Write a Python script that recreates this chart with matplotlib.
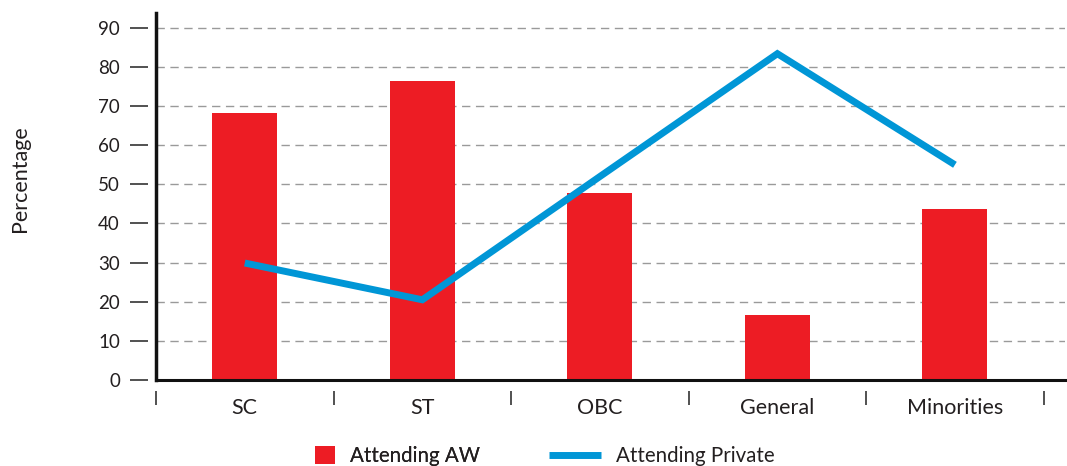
import matplotlib
matplotlib.use("Agg")
import matplotlib.pyplot as plt
from matplotlib.patches import Patch
from matplotlib.lines import Line2D
import numpy as np

categories = ["SC", "ST", "OBC", "General", "Minorities"]
attending_aw = [68.2, 76.5, 47.8, 16.6, 43.7]
attending_private = [29.9, 20.5, 52.0, 83.4, 55.0]
yticks = [0, 10, 20, 30, 40, 50, 60, 70, 80, 90]

RED = "#ED1C24"
BLUE = "#0096D6"
TXT = "#231F20"

plt.rcParams['font.family'] = ['Lato', 'DejaVu Sans']

fig = plt.figure(figsize=(10.67, 4.66), dpi=100)
ax = fig.add_axes([156/1067, 86/466, (1065-156)/1067, 367/466])

x = np.arange(len(categories))
ax.bar(x, attending_aw, width=0.366, color=RED, zorder=3)
ax.plot(x, attending_private, color=BLUE, lw=5, zorder=4, solid_capstyle='butt', solid_joinstyle='miter')

ax.set_xlim(-0.5, 4.62)
ax.set_ylim(0, 93.8)
ax.set_yticks(yticks)
ax.set_yticklabels([str(v) for v in yticks])
ax.yaxis.grid(True, color="#9a9a9a", linestyle=(0, (6, 4)), lw=1.0, zorder=1)
ax.set_axisbelow(True)

for s in ["top", "right"]:
    ax.spines[s].set_visible(False)
ax.spines['left'].set_position(('outward', 6))
ax.spines['left'].set_visible(False)
ax.spines['bottom'].set_position(('outward', 8))
ax.spines['bottom'].set_visible(False)
# real axis lines
ax.axvline(-0.5, color="#111111", lw=2.5, zorder=5, clip_on=False)
ax.axhline(0, color="#111111", lw=2.2, zorder=5, clip_on=False)

ax.tick_params(axis='y', length=13, width=1.2, color="#333333", labelsize=13.5, labelcolor=TXT, pad=7)
ax.set_xticks(x)
ax.set_xticklabels(categories)
ax.set_xticks(np.arange(-0.5, 5, 1.0), minor=True)
ax.tick_params(axis='x', which='major', length=0, labelsize=15.5, labelcolor=TXT, pad=5)
ax.tick_params(axis='x', which='minor', length=10, width=1.2, color="#333333")

fig.text(20/1067, 1-179/466, "Percentage", rotation=90, ha='center', va='center', fontsize=15.5, color=TXT)

leg1 = fig.legend(handles=[Patch(facecolor=RED, edgecolor='none', label="Attending AW")],
                  loc='upper left', bbox_to_anchor=(307/1067, 1-438/466), frameon=False,
                  fontsize=14.8, handlelength=0.97, handleheight=0.97, handletextpad=0.7,
                  labelcolor=TXT, borderaxespad=0)
leg2 = fig.legend(handles=[Line2D([], [], color=BLUE, lw=5, solid_capstyle='butt', label="Attending Private")],
                  loc='upper left', bbox_to_anchor=(541/1067, 1-438/466), frameon=False,
                  fontsize=14.8, handlelength=2.5, handletextpad=0.75,
                  labelcolor=TXT, borderaxespad=0)
fig.add_artist(leg1)

fig.savefig("out.png", dpi=100)
